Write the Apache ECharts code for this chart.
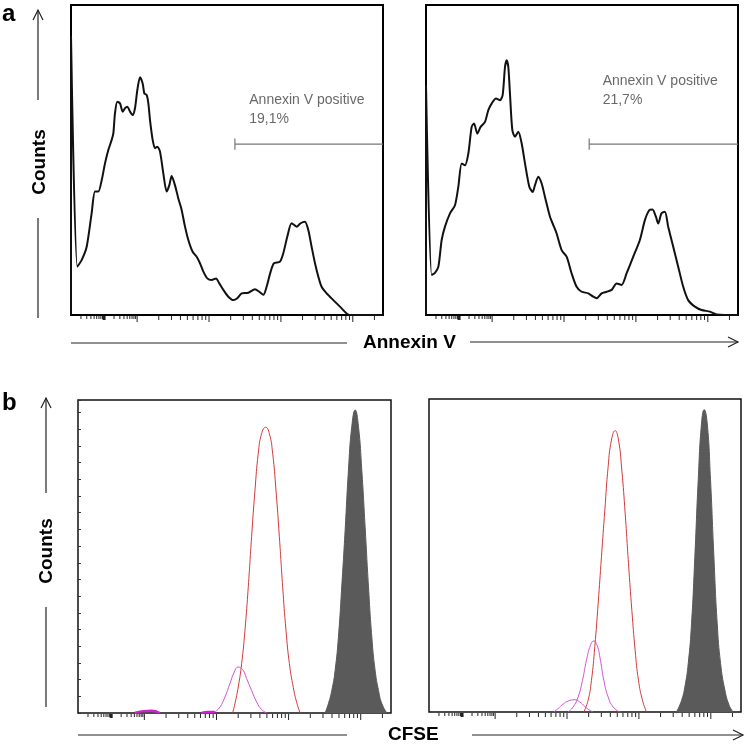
<!DOCTYPE html>
<html>
<head>
<meta charset="utf-8">
<script src="https://cdn.jsdelivr.net/npm/echarts@6/dist/echarts.min.js"></script>
<style>html,body{margin:0;padding:0;background:#fff}#chart{width:750px;height:750px}</style>
</head>
<body>
<div id="chart"></div>
<script>
// x values: log10 fluorescence intensity; y values: % of axis maximum counts
const annexinLeft = [[0.08,0],[0.08,90],[0.168,15.6],[0.228,17.7],[0.298,22.0],[0.367,32.8],[0.414,39.8],[0.460,39.8],[0.507,43.5],[0.553,48.9],[0.599,53.2],[0.646,56.5],[0.669,58.6],[0.692,65.1],[0.724,68.8],[0.761,68.3],[0.799,65.6],[0.831,66.7],[0.863,67.2],[0.901,65.6],[0.938,64.5],[0.970,66.7],[1.003,72.6],[1.040,76.7],[1.077,74.7],[1.100,71.5],[1.132,71.0],[1.156,68.3],[1.179,62.9],[1.216,56.5],[1.248,53.8],[1.281,54.3],[1.318,52.7],[1.364,45.7],[1.411,39.8],[1.448,41.9],[1.480,44.8],[1.526,41.9],[1.573,37.6],[1.619,33.9],[1.666,28.5],[1.712,24.2],[1.772,20.4],[1.828,18.8],[1.874,16.7],[1.921,14.0],[1.976,11.8],[2.036,11.3],[2.097,11.8],[2.143,10.2],[2.199,8.1],[2.268,5.9],[2.338,4.8],[2.393,5.4],[2.454,7.0],[2.546,7.2],[2.639,8.3],[2.699,7.5],[2.755,6.5],[2.801,9.1],[2.857,14.0],[2.903,16.7],[2.987,17.2],[3.033,19.9],[3.089,25.3],[3.149,29.6],[3.219,28.5],[3.274,29.6],[3.334,30.1],[3.381,27.4],[3.427,22.0],[3.474,16.7],[3.520,12.4],[3.566,9.1],[3.636,7.0],[3.729,4.8],[3.821,2.7],[3.914,0.5],[3.960,0],[4.42,0]];
const annexinRight = [[0.08,0],[0.08,74.1],[0.159,12.9],[0.205,13.6],[0.252,15.6],[0.298,24.2],[0.344,28.5],[0.414,32.8],[0.483,35.4],[0.530,41.4],[0.576,48.9],[0.622,48.3],[0.669,52.1],[0.715,60.7],[0.748,61.8],[0.794,58.5],[0.840,60.7],[0.901,62.3],[0.947,66.1],[0.993,68.2],[1.054,69.8],[1.109,69.3],[1.146,70.9],[1.179,80.0],[1.202,82.2],[1.225,80.0],[1.248,71.4],[1.281,59.6],[1.318,57.5],[1.364,59.1],[1.411,55.3],[1.457,48.9],[1.517,41.4],[1.564,39.7],[1.596,41.9],[1.642,44.6],[1.689,42.4],[1.735,38.1],[1.805,31.7],[1.851,29.0],[1.897,26.3],[1.967,20.9],[2.036,18.8],[2.106,13.4],[2.175,9.1],[2.245,7.5],[2.338,7.0],[2.407,5.9],[2.453,5.4],[2.523,7.0],[2.592,7.5],[2.662,8.1],[2.731,10.2],[2.801,9.7],[2.870,13.4],[2.963,18.8],[3.055,24.2],[3.125,30.6],[3.185,33.8],[3.231,34.0],[3.278,31.7],[3.310,29.5],[3.356,32.8],[3.403,33.3],[3.449,28.5],[3.519,22.0],[3.588,15.6],[3.658,9.1],[3.727,4.8],[3.820,2.7],[3.913,1.6],[4.030,1.1],[4.123,0.2],[4.42,0]];
const gateLeft = {start: 2.36, end: 4.42, level: 55.1, text: 'Annexin V positive\n19,1%', textX: 2.56, textY: 66.2};
const gateRight = {start: 2.35, end: 4.42, level: 55.1, text: 'Annexin V positive\n21,7%', textX: 2.537, textY: 72.5};

const cfseLeftGray = [[3.506,0],[3.552,3.0],[3.599,7.2],[3.645,13.6],[3.691,24.3],[3.737,40.3],[3.784,58.4],[3.830,77.6],[3.876,91.5],[3.923,96.8],[3.969,91.5],[4.015,77.6],[4.061,59.5],[4.108,40.3],[4.154,24.3],[4.200,13.6],[4.247,7.2],[4.293,3.0],[4.362,0]];
const cfseLeftRed = [[2.224,0],[2.256,3.0],[2.302,8.3],[2.349,15.8],[2.395,26.4],[2.441,40.3],[2.487,56.3],[2.534,71.2],[2.580,83.0],[2.626,89.3],[2.682,91.3],[2.733,89.3],[2.779,83.0],[2.825,71.2],[2.872,56.3],[2.918,40.3],[2.964,26.4],[3.011,15.8],[3.066,8.1],[3.112,3.4],[3.159,0]];
const cfseLeftMagenta = [[1.978,0.3],[2.048,1.9],[2.117,5.1],[2.187,9.4],[2.247,13.1],[2.302,14.7],[2.362,13.9],[2.418,11.0],[2.487,7.2],[2.557,3.5],[2.626,1.1],[2.696,0]];
const cfseLeftMagentaLow = [[0.867,0],[0.983,0.6],[1.099,0.7],[1.214,0],[null,null],[1.793,0],[1.886,0.3],[1.978,0.3]];
const cfseRightGray = [[3.523,0],[3.593,3.7],[3.639,8.0],[3.686,15.5],[3.732,28.3],[3.778,49.6],[3.825,74.2],[3.871,92.3],[3.908,96.6],[3.950,92.3],[3.996,74.2],[4.043,49.6],[4.089,28.3],[4.136,15.5],[4.196,7.0],[4.256,2.1],[4.312,0]];
const cfseRightRed = [[2.233,0],[2.293,3.7],[2.340,10.1],[2.386,20.8],[2.433,34.7],[2.479,49.6],[2.526,64.6],[2.572,78.4],[2.618,86.9],[2.669,89.9],[2.716,86.9],[2.762,77.3],[2.809,63.4],[2.855,47.4],[2.902,32.4],[2.948,19.6],[2.994,10.1],[3.050,3.7],[3.106,0]];
const cfseRightMagenta1 = [[2.015,0],[2.085,1.6],[2.154,4.8],[2.215,10.1],[2.270,16.5],[2.326,21.3],[2.372,22.7],[2.419,21.3],[2.465,16.5],[2.512,10.1],[2.572,4.8],[2.642,1.6],[2.734,0]];
const cfseRightMagenta2 = [[1.816,0],[1.876,1.1],[1.945,2.5],[2.015,3.5],[2.108,3.9],[2.177,3.2],[2.247,1.8],[2.307,0.7],[2.363,0]];

const xMin = 0.08, xMax = 4.42;
const decades = [1, 2, 3, 4];

// log-axis tick marks (decade = long, minor at 2..9)
function buildTicks() {
  const t = [];
  // compressed first region: two half-width sub-decades
  [0.08, 0.54].forEach(s => {
    for (let k = 2; k <= 9; k++) t.push([s + 0.46 * Math.log10(k), 3, 1]);
  });
  t.push([0.54, 4, 3]);
  decades.forEach(d => {
    t.push([d, 6, 1]);
    for (let k = 2; k <= 9; k++) {
      const v = d + Math.log10(k);
      if (v < xMax) t.push([v, 4, 1]);
    }
  });
  return t;
}
const ticks = buildTicks();

const chart = echarts.init(document.getElementById('chart'));
const grids = [
  {left: 71, top: 5, width: 312, height: 310, show: true, borderColor: '#000', borderWidth: 2},
  {left: 426, top: 5, width: 312, height: 310, show: true, borderColor: '#000', borderWidth: 2},
  {left: 78, top: 400, width: 313, height: 313, show: true, borderColor: '#111', borderWidth: 1.5},
  {left: 429, top: 399, width: 312, height: 313, show: true, borderColor: '#111', borderWidth: 1.5}
];
const xAxes = grids.map((g, i) => ({gridIndex: i, type: 'value', min: xMin, max: xMax, show: false}));
const yAxes = grids.map((g, i) => ({
  gridIndex: i, type: 'value', min: 0, max: 100,
  show: i === 2,
  interval: 100 / 18.75,
  axisLine: {show: false}, axisLabel: {show: false}, splitLine: {show: false},
  axisTick: {show: i === 2, inside: true, length: 3, lineStyle: {color: '#333'}}
}));

function tickSeries(i) {
  return {
    type: 'custom', xAxisIndex: i, yAxisIndex: i, clip: false, silent: true,
    data: ticks,
    renderItem: function (params, api) {
      const p = api.coord([api.value(0), 0]);
      const len = api.value(1), w = api.value(2);
      return {type: 'line', shape: {x1: p[0], y1: p[1] + 1, x2: p[0], y2: p[1] + 1 + len},
        style: {stroke: '#222', lineWidth: w}};
    }
  };
}
function lineSeries(i, data, color, width, smooth, area) {
  const s = {type: 'line', xAxisIndex: i, yAxisIndex: i, data: data, showSymbol: false, symbol: 'none',
    smooth: smooth, lineStyle: {color: color, width: width}, silent: true, connectNulls: false};
  if (area) s.areaStyle = {color: area, opacity: 1};
  return s;
}
function gateSeries(i, g) {
  return [
    lineSeries(i, [[g.start, g.level], [g.end, g.level]], '#777', 1.2, false),
    lineSeries(i, [[g.start, g.level - 1.8], [g.start, g.level + 1.8]], '#777', 1.2, false),
    {type: 'scatter', xAxisIndex: i, yAxisIndex: i, symbolSize: 0, silent: true,
      data: [[g.textX, g.textY]],
      label: {show: true, position: [0, 0], formatter: g.text, align: 'left', verticalAlign: 'middle',
        fontFamily: 'Liberation Sans, Arial', fontSize: 14, lineHeight: 19, color: '#444'}}
  ];
}

const series = [
  lineSeries(0, annexinLeft, '#111', 2, 0.25),
  lineSeries(1, annexinRight, '#111', 2, 0.25),
  ...gateSeries(0, gateLeft),
  ...gateSeries(1, gateRight),
  lineSeries(2, cfseLeftGray, '#5a5a5a', 1, true, '#5a5a5a'),
  lineSeries(2, cfseLeftRed, '#d23a3a', 1, true),
  lineSeries(2, cfseLeftMagenta, '#d64fd6', 1, true),
  lineSeries(2, cfseLeftMagentaLow, '#d020d0', 2.5, true),
  lineSeries(3, cfseRightGray, '#5a5a5a', 1, true, '#5a5a5a'),
  lineSeries(3, cfseRightRed, '#d23a3a', 1, true),
  lineSeries(3, cfseRightMagenta1, '#d64fd6', 1, true),
  lineSeries(3, cfseRightMagenta2, '#d64fd6', 1, true),
  tickSeries(0), tickSeries(1), tickSeries(2), tickSeries(3)
];

const lineStyle = {stroke: '#222', lineWidth: 1.2};
const boldFont = 'bold 19px "Liberation Sans", Arial, sans-serif';
const graphic = [
  {type: 'text', left: 2, top: 2, style: {text: 'a', font: 'bold 24px "Liberation Sans", Arial', fill: '#000'}},
  {type: 'text', left: 2, top: 391, style: {text: 'b', font: 'bold 24px "Liberation Sans", Arial', fill: '#000'}},
  // panel a y arrow
  {type: 'line', shape: {x1: 38, y1: 100, x2: 38, y2: 10}, style: lineStyle},
  {type: 'polyline', shape: {points: [[33, 20], [38, 10], [43, 20]]}, style: {stroke: '#222', lineWidth: 1.2, fill: null}},
  {type: 'line', shape: {x1: 38, y1: 218, x2: 38, y2: 318}, style: lineStyle},
  {type: 'text', x: 40, y: 162, rotation: Math.PI / 2,
    style: {text: 'Counts', font: boldFont, fill: '#000', align: 'center', verticalAlign: 'middle'}},
  // panel b y arrow
  {type: 'line', shape: {x1: 46, y1: 493, x2: 46, y2: 398}, style: lineStyle},
  {type: 'polyline', shape: {points: [[41, 408], [46, 398], [51, 408]]}, style: {stroke: '#222', lineWidth: 1.2, fill: null}},
  {type: 'line', shape: {x1: 46, y1: 607, x2: 46, y2: 707}, style: lineStyle},
  {type: 'text', x: 47, y: 551, rotation: Math.PI / 2,
    style: {text: 'Counts', font: boldFont, fill: '#000', align: 'center', verticalAlign: 'middle'}},
  // panel a x arrow
  {type: 'line', shape: {x1: 71, y1: 343, x2: 347, y2: 343}, style: lineStyle},
  {type: 'text', x: 363, y: 343, style: {text: 'Annexin V', font: boldFont, fill: '#000', align: 'left', verticalAlign: 'middle'}},
  {type: 'line', shape: {x1: 470, y1: 342, x2: 738, y2: 342}, style: lineStyle},
  {type: 'polyline', shape: {points: [[728, 337], [738, 342], [728, 347]]}, style: {stroke: '#222', lineWidth: 1.2, fill: null}},
  // panel b x arrow
  {type: 'line', shape: {x1: 78, y1: 735, x2: 347, y2: 735}, style: lineStyle},
  {type: 'text', x: 388, y: 735, style: {text: 'CFSE', font: boldFont, fill: '#000', align: 'left', verticalAlign: 'middle'}},
  {type: 'line', shape: {x1: 472, y1: 735, x2: 743, y2: 735}, style: lineStyle},
  {type: 'polyline', shape: {points: [[733, 730], [743, 735], [733, 740]]}, style: {stroke: '#222', lineWidth: 1.2, fill: null}}
];

chart.setOption({
  animation: false,
  backgroundColor: '#fff',
  grid: grids,
  xAxis: xAxes,
  yAxis: yAxes,
  series: series,
  graphic: graphic
});
</script>
</body>
</html>
